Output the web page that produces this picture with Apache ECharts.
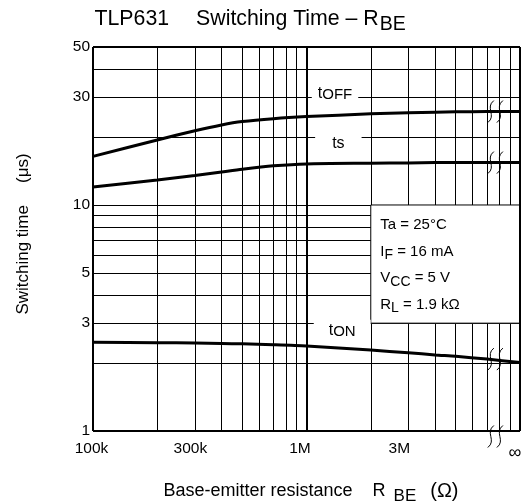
<!DOCTYPE html>
<html><head><meta charset="utf-8">
<script src="https://cdn.jsdelivr.net/npm/echarts@6/dist/echarts.min.js"></script>
<style>html,body{margin:0;padding:0;background:#fff}#c{width:528px;height:501px}</style>
</head><body><div id="c"></div>
<script>
// ---- data ----
const resistance = [1e5, 2e5, 3e5, 4e5, 5e5, 7e5, 1e6, 2e6, 3e6, 4e6, 5e6, 7e6, 1e7];
const tOff = [16.4, 19.4, 21.3, 22.6, 23.4, 24.1, 24.6, 25.3, 25.6, 25.75, 25.85, 25.9, 25.9];
const tS   = [12.0, 12.9, 13.5, 14.0, 14.4, 14.9, 15.2, 15.3, 15.35, 15.4, 15.4, 15.4, 15.4];
const tOn  = [2.47, 2.46, 2.45, 2.44, 2.43, 2.41, 2.38, 2.28, 2.22, 2.17, 2.14, 2.08, 2.01];
const xGridValues = [2e5, 3e5, 4e5, 5e5, 6e5, 7e5, 8e5, 9e5, 1e6, 2e6, 3e6, 4e6, 5e6, 6e6, 7e6, 8e6, 9e6];
const yGridValues = [2, 3, 4, 5, 6, 7, 8, 9, 10, 20, 30, 40];
const xTickValues = [1e5, 3e5, 1e6, 3e6, 1e7];
const xTickLabels = ['100k', '300k', '1M', '3M', '\u221E'];
const yTickValues = [1, 3, 5, 10, 30, 50];
const yTickLabels = ['1', '3', '5', '10', '30', '50'];
const xMin = 1e5, xMax = 1e7, yMin = 1, yMax = 50;
const breakX = [7.3e6, 8.05e6];

// label nudges (style only)
const xLabelShift = [-1.5, -4.5, -6.5, -9, -5];

const FONT = '"Liberation Sans", Arial, Helvetica, sans-serif';
const chart = echarts.init(document.getElementById('c'), null, {renderer: 'canvas'});

const zip = (xs, ys) => xs.map((x, i) => [x, ys[i]]);
const curve = (name, vals) => ({
  name, type: 'line', data: zip(resistance, vals), smooth: 0.25, showSymbol: false,
  symbol: 'none', lineStyle: {color: '#000', width: 3}, z: 4, silent: true
});
const isFrameX = v => v === xMin || v === xMax;
const isFrameY = v => v === yMin || v === yMax;
const HIDDEN = 'rgba(0,0,0,0)';

const option = {
  animation: false,
  backgroundColor: '#fff',
  textStyle: {fontFamily: FONT, color: '#000'},
  title: {
    left: 89.5, top: 2,
    text: '{a|TLP631}{g|}{a|Switching Time \u2013 R}{s|BE}',
    textStyle: {
      rich: {
        a: {fontFamily: FONT, fontSize: 21.3, fontWeight: 'normal', color: '#000', lineHeight: 25},
        g: {width: 27},
        s: {fontFamily: FONT, fontSize: 19.5, fontWeight: 'normal', color: '#000', lineHeight: 25, padding: [11, 0, 0, 1]}
      }
    }
  },
  grid: {left: 93, right: 8, top: 47, bottom: 70, show: false, containLabel: false, outerBoundsMode: 'none'},
  xAxis: {
    type: 'log', logBase: 10, min: xMin, max: xMax,
    axisLine: {show: false}, axisTick: {show: false}, axisLabel: {show: false}, splitLine: {show: false},
    name: '{g0|}{a|Base-emitter resistance}{g|}{a|R}{s|BE}{g2|}{o|(\u03A9)}',
    nameLocation: 'middle', nameGap: 50,
    nameTextStyle: {
      rich: {
        a: {fontFamily: FONT, fontSize: 18, color: '#000', lineHeight: 20},
        o: {fontFamily: FONT, fontSize: 20, color: '#000', lineHeight: 20},
        g0: {width: 9}, g: {width: 20}, g2: {width: 14},
        s: {fontFamily: FONT, fontSize: 17, color: '#000', lineHeight: 20, padding: [10, 0, 0, 8]}
      }
    }
  },
  yAxis: {
    type: 'log', logBase: 10, min: yMin, max: yMax,
    axisLine: {show: false}, axisTick: {show: false}, axisLabel: {show: false}, splitLine: {show: false},
    name: '{g0|}{a|Switching time}{g|}{a|(\u03BCs)}',
    nameLocation: 'middle', nameGap: 60, nameRotate: 90,
    nameTextStyle: {
      rich: {
        a: {fontFamily: FONT, fontSize: 17, color: '#000', lineHeight: 20},
        g0: {width: 10}, g: {width: 22}
      }
    }
  },
  series: [
    { // grid lines
      type: 'line', data: [], z: 1, silent: true,
      markLine: {
        z: 1, silent: true, symbol: ['none', 'none'], animation: false,
        label: {show: false},
        lineStyle: {color: '#000', width: 1, type: 'solid'},
        emphasis: {disabled: true},
        data: xGridValues.map(v => ({xAxis: v, lineStyle: {color: '#000', width: v === 1e6 ? 2 : 1, type: 'solid'}}))
          .concat(yGridValues.map(v => ({yAxis: v})))
      }
    },
    { // condition box
      type: 'line', data: [], z: 3, silent: true,
      markArea: {
        z: 3, silent: true,
        itemStyle: {color: '#fff', borderColor: '#000', borderWidth: 1, opacity: 1},
        label: {
          show: true, position: 'insideTopLeft', distance: 0, padding: [7, 0, 0, 10],
          formatter: '{a|Ta = 25\u00B0C}\n{a|I}{s|F}{a| = 16 mA}\n{a|V}{s|CC}{a| = 5 V}\n{a|R}{s|L}{a| = 1.9 k\u03A9}',
          rich: {
            a: {fontFamily: FONT, fontSize: 15, color: '#000', lineHeight: 26.7},
            s: {fontFamily: FONT, fontSize: 14, color: '#000', lineHeight: 26.7, padding: [7, 0, 0, 0]}
          }
        },
        data: [[{coord: [2e6, 3]}, {coord: [1e7, 10]}]]
      }
    },
    curve('tOFF', tOff),
    curve('ts', tS),
    curve('tON', tOn),
    { // frame + tick labels
      type: 'line', data: [], z: 5, silent: true,
      markLine: {
        z: 5, silent: true, symbol: ['none', 'none'], animation: false,
        lineStyle: {color: '#000', width: 1, type: 'solid'},
        emphasis: {disabled: true},
        data: xTickValues.map((v, i) => ({
          xAxis: v,
          lineStyle: {color: isFrameX(v) ? '#000' : HIDDEN, width: 2, type: 'solid'},
          label: {show: true, position: 'start', distance: v === xMax ? 13.5 : 10, formatter: xTickLabels[i],
            offset: [xLabelShift[i], 0],
            fontFamily: FONT, fontSize: v === xMax ? 18 : 15.5, color: '#000'}
        })).concat(yTickValues.map((v, i) => ({
          yAxis: v,
          lineStyle: {color: isFrameY(v) ? '#000' : HIDDEN, width: 2, type: 'solid'},
          label: {show: true, position: 'start', distance: 3, formatter: yTickLabels[i],
            fontFamily: FONT, fontSize: 15.5, color: '#000'}
        })))
      }
    },
    { // curve labels
      type: 'line', data: [], z: 6, silent: true,
      markPoint: {
        z: 6, silent: true, symbol: 'circle', symbolSize: 1, itemStyle: {color: HIDDEN},
        data: [
          {coord: [1.36e6, 30], label: {show: true, position: 'inside', offset: [0, -4], backgroundColor: '#fff',
            padding: [0, 6, 0, 6], formatter: '{t|t}{s|OFF}'}},
          {coord: [1.41e6, 20], label: {show: true, position: 'inside', offset: [0, 7], backgroundColor: '#fff',
            padding: [0, 17, 0, 17], formatter: '{t|ts}'}},
          {coord: [1.47e6, 3], label: {show: true, position: 'inside', offset: [0, 6], backgroundColor: '#fff',
            padding: [2, 15, 0, 15], formatter: '{t|t}{s|ON}'}}
        ],
        label: {
          rich: {
            t: {fontFamily: FONT, fontSize: 16, color: '#000', lineHeight: 17},
            s: {fontFamily: FONT, fontSize: 15, color: '#000', lineHeight: 17, padding: [4, 0, 0, 0]}
          }
        }
      }
    }
  ]
};
chart.setOption(option);

// break marks (decoration) placed through the chart's own scales
function sMark(p) {
  const x = p[0], y = p[1];
  return {
    type: 'bezierCurve', silent: true, z: 10,
    shape: {x1: x + 3, y1: y - 11, cpx1: x - 6, cpy1: y - 4, cpx2: x + 6, cpy2: y + 4, x2: x - 3, y2: y + 11},
    style: {stroke: '#000', lineWidth: 1, fill: null}
  };
}
const breakY = [tOff[tOff.length - 2], tS[tS.length - 2], tOn[tOn.length - 2]];
const graphics = [];
breakX.forEach(bx => {
  breakY.forEach(by => graphics.push(sMark(chart.convertToPixel({xAxisIndex: 0, yAxisIndex: 0}, [bx, by]))));
  const p = chart.convertToPixel({xAxisIndex: 0, yAxisIndex: 0}, [bx, yMin]);
  graphics.push(sMark([p[0], p[1] + 5.5]));
});
chart.setOption({graphic: graphics});
</script></body></html>
